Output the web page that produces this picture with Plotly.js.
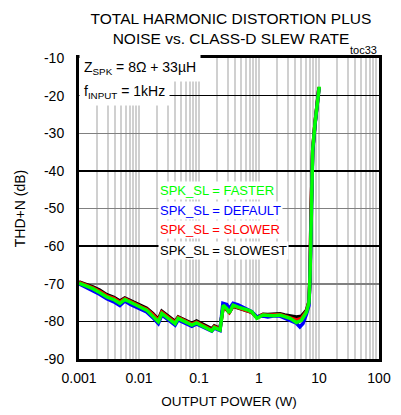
<!DOCTYPE html>
<html>
<head>
<meta charset="utf-8">
<script src="https://cdn.plot.ly/plotly-3.0.1.min.js"></script>
<style>html,body{margin:0;padding:0;background:#fff;}#chart{width:401px;height:415px;}</style>
</head>
<body>
<div id="chart"></div>
<script>
// Output power (W) sample points
const powerFaster = [0.001, 0.0013, 0.0017, 0.0022, 0.0029, 0.0038, 0.0048, 0.0058, 0.0072, 0.0091, 0.0115, 0.0134, 0.017, 0.021, 0.024, 0.03, 0.04, 0.045, 0.06, 0.076, 0.091, 0.12, 0.163, 0.18, 0.224, 0.254, 0.29, 0.32, 0.37, 0.45, 0.55, 0.66, 0.76, 0.92, 1.17, 1.4, 1.73, 2.24, 2.7, 3.3, 4.2, 5.1, 6.2, 6.8, 7.08, 7.35, 7.85, 8.58, 9.37, 10.1];
const thdFaster  = [-69.8, -70.5, -71.3, -72.3, -73.5, -74.2, -75.2, -74.2, -75.0, -75.7, -76.5, -77.0, -78.5, -80.1, -77.9, -79.0, -80.6, -79.2, -80.2, -81.0, -80.4, -81.5, -82.5, -81.6, -82.3, -75.7, -76.6, -77.7, -75.7, -76.2, -76.6, -77.0, -77.5, -79.2, -78.3, -78.5, -78.5, -78.3, -78.8, -79.2, -80.3, -79.7, -77.5, -75.0, -68.0, -52.0, -34.5, -27.4, -21.2, -17.6];

const powerDefault = [0.001, 0.0013, 0.0017, 0.0022, 0.0029, 0.0038, 0.0048, 0.0058, 0.0072, 0.0091, 0.0115, 0.0134, 0.017, 0.021, 0.024, 0.03, 0.04, 0.045, 0.06, 0.076, 0.091, 0.12, 0.163, 0.18, 0.224, 0.25, 0.29, 0.32, 0.37, 0.45, 0.55, 0.66, 0.76, 0.92, 1.17, 1.4, 1.73, 2.24, 2.7, 3.3, 4.2, 4.8, 5.4, 6.2, 6.8, 7.08, 7.35, 7.85, 8.58, 9.37, 10.0];
const thdDefault  = [-70.0, -70.9, -71.8, -72.8, -74.0, -74.8, -75.8, -74.6, -75.5, -76.2, -77.0, -77.5, -79.0, -80.6, -78.3, -79.5, -81.0, -79.6, -80.5, -81.3, -80.7, -81.7, -82.6, -81.8, -82.4, -75.2, -75.5, -76.6, -75.2, -75.6, -76.3, -76.8, -77.4, -78.8, -78.6, -78.8, -78.6, -78.6, -79.2, -79.7, -80.5, -81.5, -80.6, -78.0, -75.8, -68.5, -52.5, -35.0, -27.8, -21.5, -18.0];

const powerSlower = [0.001, 0.0013, 0.0017, 0.0022, 0.0029, 0.0038, 0.0048, 0.0058, 0.0072, 0.0091, 0.0115, 0.0134, 0.017, 0.021, 0.024, 0.03, 0.04, 0.045, 0.06, 0.076, 0.091, 0.12, 0.163, 0.18, 0.224, 0.254, 0.29, 0.32, 0.37, 0.45, 0.55, 0.66, 0.76, 0.92, 1.17, 1.4, 1.73, 2.24, 2.7, 3.3, 4.2, 5.1, 6.2, 6.8, 7.08, 7.35, 7.85, 8.58, 9.37, 10.0];
const thdSlower  = [-69.6, -70.3, -71.1, -72.0, -73.2, -73.9, -74.9, -74.0, -74.8, -75.5, -76.3, -76.8, -78.2, -79.8, -77.6, -78.8, -80.3, -79.0, -80.0, -80.8, -80.2, -81.3, -82.3, -81.4, -82.1, -75.8, -76.7, -77.6, -75.9, -76.3, -76.8, -77.1, -77.6, -79.0, -78.2, -78.4, -78.3, -78.2, -78.6, -79.0, -79.6, -79.2, -77.3, -75.0, -68.0, -52.0, -34.5, -27.4, -21.2, -17.8];

const powerSlowest = [0.001, 0.0013, 0.0017, 0.0022, 0.0029, 0.0038, 0.0048, 0.0058, 0.0072, 0.0091, 0.0115, 0.0134, 0.017, 0.021, 0.024, 0.03, 0.04, 0.045, 0.06, 0.076, 0.091, 0.12, 0.163, 0.18, 0.224, 0.254, 0.29, 0.32, 0.37, 0.45, 0.55, 0.66, 0.76, 0.92, 1.17, 1.4, 1.73, 2.24, 2.7, 3.3, 4.2, 5.1, 6.2, 6.8, 7.08, 7.35, 7.85, 8.58, 9.37, 10.0];
const thdSlowest  = [-69.5, -70.1, -70.8, -71.7, -72.9, -73.6, -74.6, -73.8, -74.5, -75.2, -76.0, -76.5, -77.9, -79.5, -77.3, -78.5, -80.0, -78.8, -79.7, -80.5, -79.9, -81.0, -82.0, -81.2, -81.9, -76.0, -76.8, -77.6, -76.0, -76.4, -76.9, -77.2, -77.6, -78.9, -78.1, -78.2, -78.1, -78.0, -78.3, -78.5, -78.8, -78.6, -77.0, -74.8, -68.0, -52.0, -34.5, -27.4, -21.2, -17.8];

const seriesNames = ['SPK_SL = FASTER', 'SPK_SL = DEFAULT', 'SPK_SL = SLOWER', 'SPK_SL = SLOWEST'];
const seriesColors = ['#00ff00', '#0000ff', '#ff0000', '#000000'];
const xTickVals = [0.001, 0.01, 0.1, 1, 10, 100];
const xTickText = ['0.001', '0.01', '0.1', '1', '10', '100'];
const yTickVals = [-90, -80, -70, -60, -50, -40, -30, -20, -10];
const yTickText = ['-90', '-80', '-70', '-60', '-50', '-40', '-30', '-20', '-10'];

const FONT = '"Liberation Sans Narrow", "Arial Narrow", "Liberation Sans", Arial, sans-serif';

function tr(x, y, i) {
  return {x: x, y: y, type: 'scatter', mode: 'lines', name: seriesNames[i],
    line: {color: seriesColors[i], width: 3.5}, hoverinfo: 'skip', showlegend: false};
}
// draw order: slowest (bottom), slower, default, faster (top)
const data = [
  {x: [0.001], y: [-200], yaxis: 'y2', type: 'scatter', mode: 'lines', showlegend: false, hoverinfo: 'skip'},
  tr(powerSlowest, thdSlowest, 3),
  tr(powerSlower, thdSlower, 2),
  tr(powerDefault, thdDefault, 1),
  tr(powerFaster, thdFaster, 0)
];

const legendY = [0.561, 0.495, 0.429, 0.362];
const annotations = seriesNames.map((n, i) => ({
  xref: 'paper', yref: 'paper', x: 0.262, y: legendY[i], xanchor: 'left', yanchor: 'middle',
  text: n, showarrow: false, bgcolor: '#ffffff', borderpad: 1,
  font: {family: FONT, size: 13, color: seriesColors[i]}
}));
annotations.push({
  xref: 'paper', yref: 'paper', x: 0.0, y: 0.967, xanchor: 'left', yanchor: 'middle', align: 'left',
  text: 'Z<sub>SPK</sub> = 8Ω + 33µH', showarrow: false,
  bgcolor: '#ffffff', borderpad: 4, font: {family: FONT, size: 14, color: '#000'}
});
annotations.push({
  xref: 'paper', yref: 'paper', x: 0.0, y: 0.887, xanchor: 'left', yanchor: 'middle', align: 'left',
  text: 'f<sub>INPUT</sub> = 1kHz', showarrow: false,
  bgcolor: '#ffffff', borderpad: 4, font: {family: FONT, size: 14, color: '#000'}
});
annotations.push({
  xref: 'paper', yref: 'paper', x: 1.0, y: 1.0, xanchor: 'right', yanchor: 'bottom',
  text: 'toc33', showarrow: false, font: {family: FONT, size: 11, color: '#000'}
});

const layout = {
  width: 401, height: 415,
  margin: {l: 79, r: 22, t: 58, b: 56},
  paper_bgcolor: '#fff', plot_bgcolor: '#fff',
  font: {family: FONT, size: 14, color: '#000'},
  title: {text: 'TOTAL HARMONIC DISTORTION PLUS<br>NOISE vs. CLASS-D SLEW RATE',
    x: 0.576, xanchor: 'center', y: 0.942, yanchor: 'middle',
    font: {family: FONT, size: 15.5, color: '#000'}},
  xaxis: {
    type: 'log', range: [-3, 2], tickvals: xTickVals, ticktext: xTickText,
    showgrid: true, gridcolor: '#d0d0d0', gridwidth: 2,
    minor: {dtick: 'D1', showgrid: true, gridcolor: '#d0d0d0', gridwidth: 2},
    showline: true, linecolor: '#000', linewidth: 3, mirror: true,
    ticks: '', ticklabelstandoff: 4, zeroline: false,
    tickfont: {family: FONT, size: 14},
    title: {text: 'OUTPUT POWER (W)', standoff: 12, font: {family: FONT, size: 13.5}}
  },
  yaxis: {
    range: [-90, -10], tickvals: yTickVals, ticktext: yTickText,
    showgrid: true, gridcolor: '#808080', gridwidth: 1.5,
    showline: true, linecolor: '#000', linewidth: 3, mirror: true,
    ticks: '', ticklabelstandoff: 9, zeroline: false,
    tickfont: {family: FONT, size: 14},
    title: {text: 'THD+N (dB)', standoff: 16, font: {family: FONT, size: 14}}
  },
  yaxis2: {
    overlaying: 'y', range: [-90, -10], tick0: -20, dtick: 20,
    showgrid: true, gridcolor: '#000', gridwidth: 1.5, showticklabels: false,
    ticks: '', zeroline: false, showline: false
  },
  annotations: annotations
};

Plotly.newPlot('chart', data, layout, {staticPlot: true, displayModeBar: false});
</script>
</body>
</html>
